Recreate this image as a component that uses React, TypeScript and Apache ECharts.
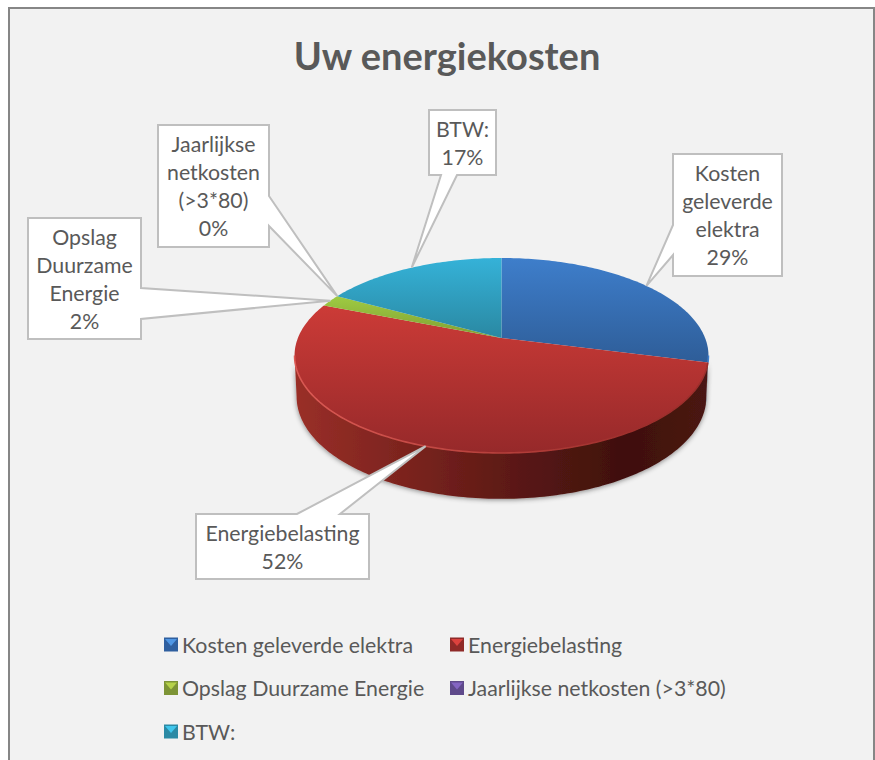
import React, { useEffect, useRef } from "react";
import * as echarts from "echarts";

const titleText = "Uw energiekosten";
const categories = [
  "Kosten geleverde elektra",
  "Energiebelasting",
  "Opslag Duurzame Energie",
  "Jaarlijkse netkosten (>3*80)",
  "BTW:",
];
const values = [29, 52, 2, 0, 17];
const calloutNames = [
  "Kosten\ngeleverde\nelektra",
  "Energiebelasting",
  "Opslag\nDuurzame\nEnergie",
  "Jaarlijkse\nnetkosten\n(>3*80)",
  "BTW:",
];
const legendLeft = [0, 2, 4];
const legendRight = [1, 3];

// ---- styling and layout ----
const FONT = "Lato, Carlito, 'Open Sans', sans-serif";
const TEXT = "#595959";
const topColors = [
  ["#3e7ecb", "#2e5d98"],
  ["#cc3b37", "#96292a"],
  ["#9fcb42", "#7f9f33"],
  ["#8163bd", "#5f4a8b"],
  ["#35b2d8", "#2a88a2"],
];
const wallColors = [
  ["#24496f", "#24496f"],
  ["#9a2f28", "#3f100e"],
  ["#5f7a26", "#5f7a26"],
  ["#4a3a6b", "#4a3a6b"],
  ["#1f6b80", "#1f6b80"],
];
const markerBase = ["#2f5f9f", "#8f2a28", "#7d9436", "#5f4a8b", "#2b8aa5"];
const markerLight = ["#4f96e4", "#dc423e", "#b6d24a", "#8465c2", "#40c6ec"];
const rimColors = [
  ["#3e7ecb", "#3e7ecb"],
  ["#dc5a54", "#9c2e2b"],
  ["#9fcb42", "#9fcb42"],
  ["#8163bd", "#8163bd"],
  ["#35b2d8", "#35b2d8"],
];

// Perspective disc: apex on screen, projected so the rim spans the reference extents.
const AX = 501.5;
const AY = 338;
const K = 0.1795;
const SY = 94.36;
const SX = 203.6;
const project = (theta: number, f = 1) => {
  const u = Math.sin(theta);
  const v = -Math.cos(theta);
  const d = 1 - K * v;
  return [AX + (f * SX * u) / d, AY + (f * SY * v) / d, v];
};
const total = values.reduce((a, b) => a + b, 0);
const startAngle = (i: number) =>
  (values.slice(0, i).reduce((a, b) => a + b, 0) / total) * Math.PI * 2;
const endAngle = (i: number) => startAngle(i) + (values[i] / total) * Math.PI * 2;
const sample = (a: number, b: number) => {
  const n = Math.max(2, Math.ceil(((b - a) * 180) / Math.PI));
  return Array.from({ length: n + 1 }, (_, j) => a + ((b - a) * j) / n);
};
const WALL_FROM = Math.acos(-K);
const WALL_TO = Math.PI * 2 - WALL_FROM;
const wallH = (v: number) => 40 + 7 * v;

const calloutBoxes = [
  { box: [673, 154, 782, 276], left: [[673, 255], [673, 225]] },
  { box: [196, 514, 369, 579], top: [[297, 514], [340, 514]] },
  { box: [28, 218, 141, 339], right: [[141, 288], [141, 319]] },
  { box: [158, 125, 269, 247], right: [[269, 196], [269, 226]] },
  { box: [429, 110, 496, 175], bottom: [[457, 175], [441, 175]] },
];

const renderSlice = (i: number) => (_p: any, _api: any) => {
  if (values[i] <= 0) return { type: "group", children: [] };
  const a = startAngle(i);
  const b = endAngle(i);
  const children: any[] = [];
  const wa = Math.max(a, WALL_FROM);
  const wb = Math.min(b, WALL_TO);
  if (wb > wa) {
    const thetas = sample(wa, wb);
    const top = thetas.map((t) => project(t).slice(0, 2));
    const bottom = thetas
      .slice()
      .reverse()
      .map((t) => {
        const p = project(t, 0.99);
        return [p[0], p[1] + wallH(p[2])];
      });
    children.push({
      type: "polygon",
      shape: { points: [...top, ...bottom] },
      style: {
        fill: {
          type: "linear",
          x: 294,
          y: 0,
          x2: 708,
          y2: 0,
          global: true,
          colorStops: [
            { offset: 0, color: wallColors[i][0] },
            { offset: 0.28, color: i === 1 ? "#7a231e" : wallColors[i][0] },
            { offset: 0.55, color: i === 1 ? "#591814" : wallColors[i][1] },
            { offset: 0.8, color: wallColors[i][1] },
            { offset: 1, color: i === 1 ? "#4a1512" : wallColors[i][1] },
          ],
        },
        shadowBlur: 5,
        shadowColor: "rgba(0,0,0,0.45)",
        shadowOffsetY: 1,
      },
    });
  }
  const rim = sample(a, b).map((t) => project(t).slice(0, 2));
  const ys = rim.map((p) => p[1]).concat(AY);
  children.push({
    type: "polygon",
    shape: { points: [[AX, AY], ...rim] },
    style: {
      fill: {
        type: "linear",
        x: 0,
        y: Math.min(...ys),
        x2: 0,
        y2: Math.max(...ys),
        global: true,
        colorStops: [
          { offset: 0, color: topColors[i][0] },
          { offset: 1, color: topColors[i][1] },
        ],
      },
    },
  });
  if (wb > wa) {
    children.push({
      type: "polyline",
      shape: { points: sample(wa, wb).map((t) => project(t).slice(0, 2)) },
      style: {
        fill: "none",
        lineWidth: 1.6,
        stroke: {
          type: "linear",
          x: 294,
          y: 0,
          x2: 640,
          y2: 0,
          global: true,
          colorStops: [
            { offset: 0, color: rimColors[i][0] },
            { offset: 1, color: rimColors[i][1] },
          ],
        },
      },
    });
  }
  return { type: "group", children };
};

const renderCallout = (_p: any, api: any) => {
  const i = api.value(0);
  const c: any = calloutBoxes[i];
  const [x0, y0, x1, y1] = c.box;
  const tip = project((startAngle(i) + endAngle(i)) / 2).slice(0, 2);
  const pts: number[][] = [[x0, y0]];
  if (c.top) pts.push(c.top[0], tip, c.top[1]);
  pts.push([x1, y0]);
  if (c.right) pts.push(c.right[0], tip, c.right[1]);
  pts.push([x1, y1]);
  if (c.bottom) pts.push(c.bottom[0], tip, c.bottom[1]);
  pts.push([x0, y1]);
  if (c.left) pts.push(c.left[0], tip, c.left[1]);
  const pct = Math.round((values[i] / total) * 100);
  return {
    type: "group",
    children: [
      {
        type: "polygon",
        shape: { points: pts },
        style: { fill: "#ffffff", stroke: "#bfbfbf", lineWidth: 2 },
      },
      {
        type: "text",
        style: {
          text: `${calloutNames[i]}\n${pct}%`,
          x: (x0 + x1) / 2,
          y: (y0 + y1) / 2,
          align: "center",
          verticalAlign: "middle",
          fontFamily: FONT,
          fontSize: 21.3,
          lineHeight: 28,
          fill: TEXT,
        },
      },
    ],
  };
};

const legendRows = [645, 688.5, 732];
const markerX = [164, 450];
const markerBevels = [
  [markerX[0], legendRows[0], 0],
  [markerX[1], legendRows[0], 1],
  [markerX[0], legendRows[1], 2],
  [markerX[1], legendRows[1], 3],
  [markerX[0], legendRows[2], 4],
].map(([x, y, i]) => ({
  type: "polygon",
  z: 20,
  silent: true,
  shape: {
    points: [
      [x + 1, y - 6],
      [x + 13, y - 6],
      [x + 7, y + 1],
    ],
  },
  style: { fill: markerLight[i] },
}));

const legendCommon = {
  orient: "vertical" as const,
  itemWidth: 14,
  itemHeight: 14,
  itemGap: 22.5,
  icon: "rect",
  padding: 0,
  selectedMode: false,
  textStyle: {
    fontFamily: FONT,
    fontSize: 21.3,
    color: TEXT,
    lineHeight: 18,
    padding: [0, 0, 0, -1],
  },
};

export default function App() {
  const ref = useRef<HTMLDivElement>(null);
  useEffect(() => {
    document.body.style.margin = "0";
    const chart = echarts.init(ref.current!, undefined, { renderer: "svg" });
    chart.setOption({
      animation: false,
      backgroundColor: "#ffffff",
      title: {
        text: titleText,
        left: 442,
        top: 31,
        textAlign: "center",
        textStyle: {
          fontFamily: FONT,
          fontSize: 38,
          fontWeight: "bold",
          color: TEXT,
        },
      },
      legend: [
        {
          ...legendCommon,
          left: markerX[0],
          top: legendRows[0] - 11,
          data: legendLeft.map((i) => categories[i]),
        },
        {
          ...legendCommon,
          left: markerX[1],
          top: legendRows[0] - 11,
          data: legendRight.map((i) => categories[i]),
        },
      ],
      graphic: [
        {
          type: "rect",
          z: -1,
          silent: true,
          shape: { x: 9, y: 8, width: 865, height: 770 },
          style: { fill: "#f2f2f2", stroke: "#868686", lineWidth: 2 },
        },
        ...markerBevels,
      ],
      series: [
        ...categories.map((name, i) => ({
          type: "custom",
          name,
          coordinateSystem: "none",
          silent: true,
          z: 2,
          itemStyle: { color: markerBase[i] },
          data: [[values[i]]],
          renderItem: renderSlice(i),
        })),
        {
          type: "custom",
          name: "labels",
          coordinateSystem: "none",
          silent: true,
          z: 3,
          data: values.map((_, i) => [i]),
          renderItem: renderCallout,
        },
      ],
    });
    return () => chart.dispose();
  }, []);
  return <div ref={ref} style={{ width: 875, height: 760 }} />;
}
